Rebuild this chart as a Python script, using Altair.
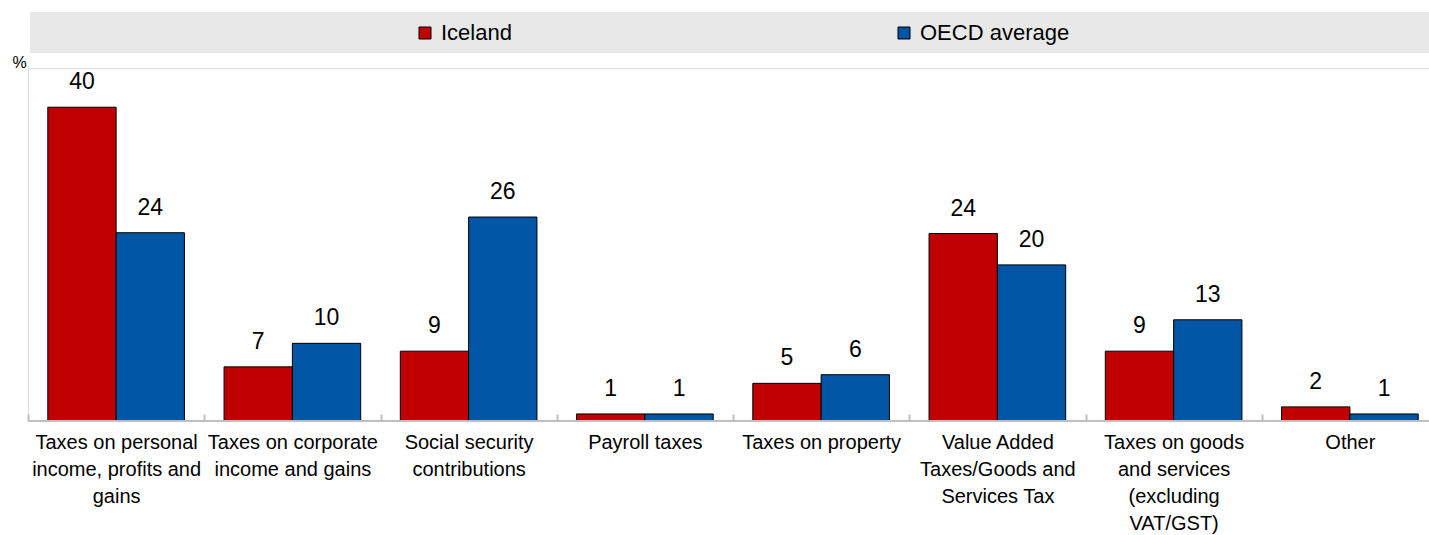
import altair as alt
import pandas as pd

categories = [
    "Taxes on personal income, profits and gains",
    "Taxes on corporate income and gains",
    "Social security contributions",
    "Payroll taxes",
    "Taxes on property",
    "Value Added Taxes/Goods and Services Tax",
    "Taxes on goods and services (excluding VAT/GST)",
    "Other",
]
label_lines = [
    "Taxes on personal|income, profits and|gains",
    "Taxes on corporate|income and gains",
    "Social security|contributions",
    "Payroll taxes",
    "Taxes on property",
    "Value Added|Taxes/Goods and|Services Tax",
    "Taxes on goods|and services|(excluding|VAT/GST)",
    "Other",
]
series = ["Iceland", "OECD average"]
iceland = [40.0, 6.9, 8.9, 0.9, 4.8, 23.9, 8.9, 1.8]
oecd = [24.0, 9.9, 26.0, 0.9, 5.9, 19.9, 12.9, 0.9]
colors = ["#C00000", "#0055A5"]

rows = []
for c, lab, a, b in zip(categories, label_lines, iceland, oecd):
    rows.append({"cat": lab, "series": series[0], "value": a})
    rows.append({"cat": lab, "series": series[1], "value": b})
df = pd.DataFrame(rows)

FONT = "Liberation Sans Narrow, Arial Narrow, Liberation Sans, Arial"
W, H = 1401, 353
BAND_RANGE = 1410

x_enc = alt.X(
    "cat:N",
    sort=label_lines,
    scale=alt.Scale(paddingInner=0, paddingOuter=0, range=[0, BAND_RANGE]),
    axis=alt.Axis(
        title=None,
        labelAngle=0,
        labelExpr="split(datum.label, '|')",
        labelFont=FONT,
        labelFontSize=20,
        labelLineHeight=27,
        labelColor="#000000",
        labelPadding=11,
        labelBaseline="top",
        domain=False,
        ticks=True,
        tickBand="extent",
        tickColor="#BFBFBF",
        tickWidth=2,
        tickSize=7,
        offset=-7,
        labelLimit=300,
    ),
)
xoff = alt.XOffset("series:N", sort=series, scale=alt.Scale(paddingOuter=0.29, paddingInner=0))
y_enc = alt.Y(
    "value:Q",
    scale=alt.Scale(domain=[0, 45], nice=False),
    axis=alt.Axis(
        title="%",
        titleAngle=0,
        titleX=-9,
        titleY=-6,
        titleFont=FONT,
        titleFontSize=16,
        titleFontWeight="normal",
        titleBaseline="middle",
        titleAlign="center",
        labels=False,
        ticks=False,
        domain=False,
        grid=False,
    ),
)

band = alt.Chart(alt.Data(values=[{}])).mark_rect(color="#E8E8E8").encode(
    x=alt.value(2), x2=alt.value(W), y=alt.value(-56), y2=alt.value(-15)
)

bars = alt.Chart(df).mark_bar(stroke="#000000", strokeWidth=1).encode(
    x=x_enc,
    xOffset=xoff,
    y=y_enc,
    color=alt.Color(
        "series:N",
        sort=series,
        scale=alt.Scale(domain=series, range=colors),
        legend=alt.Legend(
            title=None,
            orient="none",
            legendX=386,
            legendY=-46,
            direction="horizontal",
            columns=2,
            columnPadding=381,
            symbolType="square",
            symbolSize=144,
            symbolStrokeColor="#000000",
            symbolStrokeWidth=1,
            symbolOpacity=1,
            labelFont=FONT,
            labelFontSize=22,
            labelColor="#000000",
            labelOffset=5,
        ),
    ),
)

labels = alt.Chart(df).mark_text(
    font=FONT, fontSize=23, baseline="alphabetic", align="center", dy=-18, color="#000000"
).encode(
    x=alt.X("cat:N", sort=label_lines),
    xOffset=alt.XOffset("series:N", sort=series),
    y=alt.Y("value:Q"),
    text=alt.Text("value:Q", format=".0f"),
)

base = alt.Chart(alt.Data(values=[{"v": 0}])).mark_rule(color="#BFBFBF", strokeWidth=2).encode(
    x=alt.value(0), x2=alt.value(W), y=alt.value(H)
)

chart = alt.layer(band, bars, labels, base).properties(
    width=W,
    height=H,
    autosize=alt.AutoSizeParams(type="none"),
    padding={"left": 28, "top": 68, "right": 0, "bottom": 114},
).configure_view(stroke=None).configure(font=FONT)

chart.save("out.html", embed_options={"renderer": "svg", "actions": False})
